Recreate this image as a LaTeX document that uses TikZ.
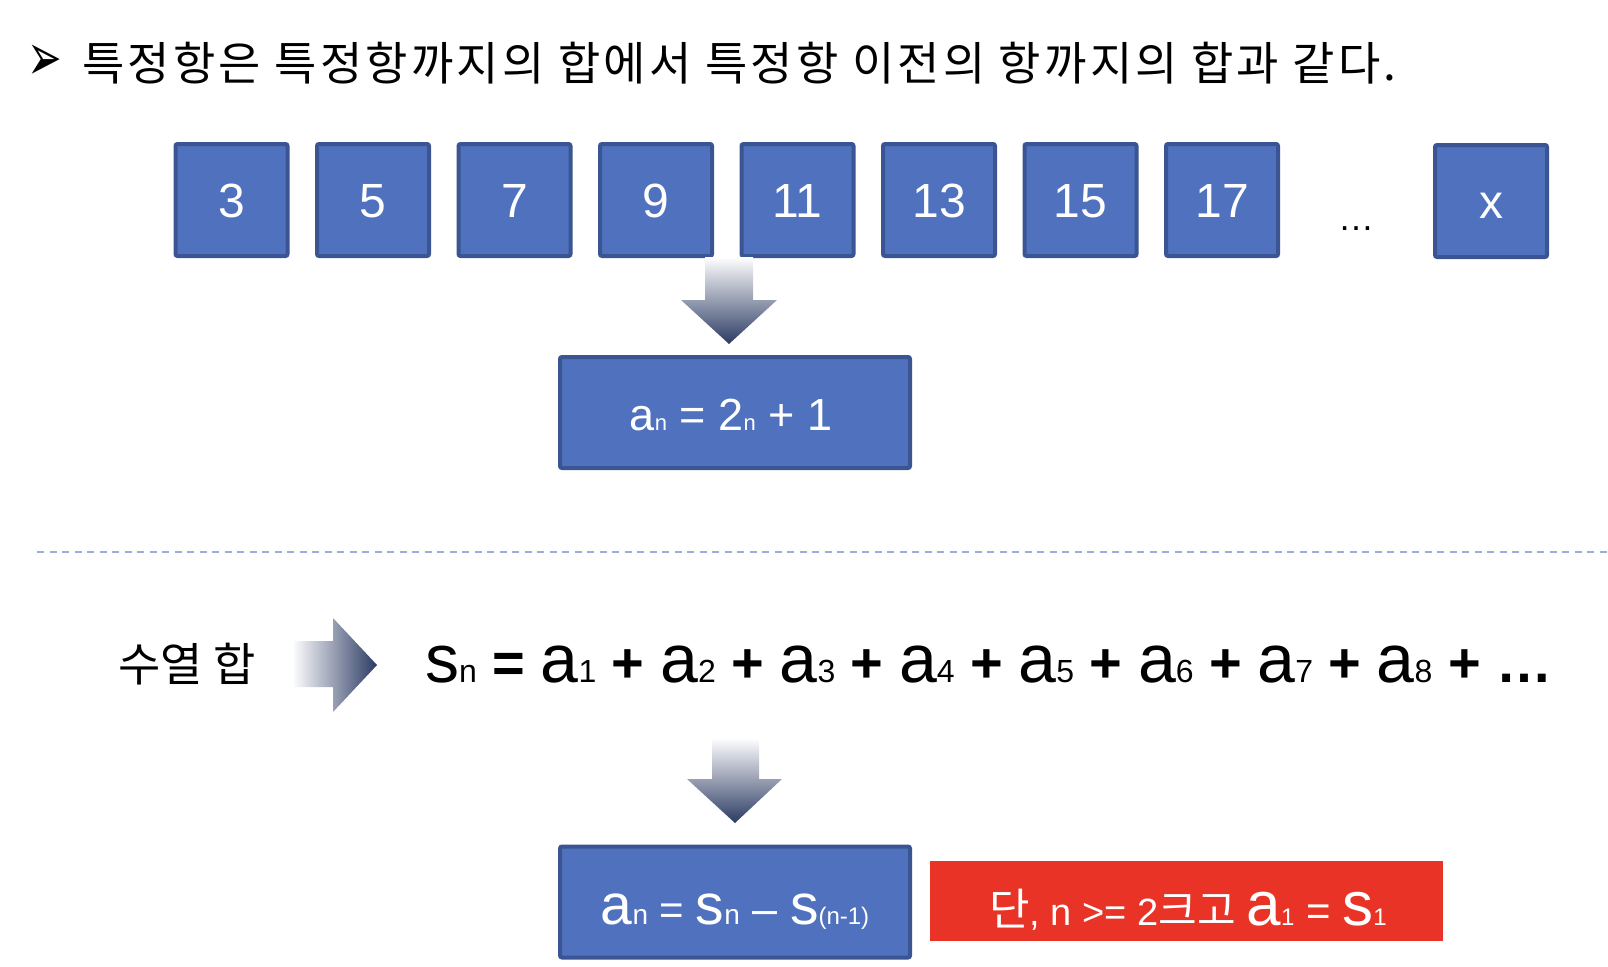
\documentclass[tikz,border=0pt]{standalone}
\usepackage{fontspec}
\setmainfont{Liberation Sans}
\newfontfamily\krfont{Noto Sans CJK KR}
\newfontfamily\krtitle[LetterSpace=7]{Noto Sans CJK KR}
\newfontfamily\symfont{DejaVu Sans}
\usetikzlibrary{positioning}
\definecolor{boxBlue}{HTML}{4F71BE}
\definecolor{boxEdge}{HTML}{3A5591}
\definecolor{noteRed}{HTML}{E83326}
\definecolor{arrowNavy}{HTML}{2C3B63}
\definecolor{dashBlue}{HTML}{9BAEDB}
\newcommand{\fsz}[2]{{\fontsize{#1}{#1}\selectfont #2}}
\newcommand{\sumop}[1]{\fsz{56}{\bfseries\ #1\ }}
\tikzset{
    numbox/.style={draw=boxEdge,fill=boxBlue,line width=4pt,rounded corners=2pt,
        minimum width=112pt,minimum height=112pt,inner sep=0pt,text=white,
        text height=35pt,text depth=0pt,font=\fontsize{48}{48}\selectfont},
    formbox/.style={draw=boxEdge,fill=boxBlue,line width=4pt,rounded corners=2pt,
        minimum width=350pt,minimum height=111pt,inner sep=0pt},
    notebox/.style={fill=noteRed,minimum width=513pt,minimum height=80pt,inner sep=0pt},
    formtext/.style={text=white,inner sep=0pt,anchor=base},
    plaintext/.style={inner sep=0pt,anchor=base west},
    blockarrow/.style={draw=none}
}
\begin{document}
\begin{tikzpicture}[x=1pt,y=-1pt]
    \useasboundingbox (0,0) rectangle (1608,966);
    \node[plaintext] (bullet) at (27,80) {\symfont\fontsize{46}{46}\selectfont
        \scalebox{0.9}[1.45]{➢}};
    \node[plaintext] (title) at (82,80) {\krtitle\fontsize{46}{46}\selectfont
        특정항은 특정항까지의 합에서 특정항 이전의 항까지의 합과 같다.};
    \foreach \v [count=\i] in {3,5,7,9,11,13,15,17}
        \node[numbox] (num\i) at ({231.5+141.5*(\i-1)},200) {\v};
    \node[inner sep=0pt,anchor=base] (dots) at (1356,230) {\fontsize{36}{36}\selectfont …};
    \node[numbox] (numx) at (1491,201) {x};
    \shade[blockarrow,top color=white,bottom color=arrowNavy]
        (705,257) -- (753,257) -- (753,300) -- (777,300) -- (729,344)
        -- (681,300) -- (705,300) -- cycle;
    \node[formbox] (formone) at (735,412.5) {};
    \node[formtext] (formonetxt) at (731,430) {\fontsize{45}{45}\selectfont
        a\fsz{22}{n} = 2\fsz{22}{n} + 1};
    \draw[dashBlue,line width=2.2pt,dash pattern=on 7pt off 5.5pt] (37,552) -- (1608,552);
    \node[plaintext] (sumlabel) at (118,681) {\krfont\fontsize{46}{46}\selectfont 수열 합};
    \shade[blockarrow,left color=white,right color=arrowNavy]
        (292,641) -- (333,641) -- (333,618) -- (377,665) -- (333,712)
        -- (333,687) -- (292,687) -- cycle;
    \node[plaintext] (sumline) at (425,682) {\fontsize{68}{68}\selectfont
        s\fsz{32}{n}\sumop{=}a\fsz{32}{1}\sumop{+}a\fsz{32}{2}\sumop{+}a\fsz{32}{3}%
        \sumop{+}a\fsz{32}{4}\sumop{+}a\fsz{32}{5}\sumop{+}a\fsz{32}{6}%
        \sumop{+}a\fsz{32}{7}\sumop{+}a\fsz{32}{8}\sumop{+}\fsz{56}{\bfseries …}};
    \shade[blockarrow,top color=white,bottom color=arrowNavy]
        (712,738) -- (759,738) -- (759,779) -- (782,779) -- (735,823)
        -- (687,779) -- (712,779) -- cycle;
    \node[formbox] (formtwo) at (735,902) {};
    \node[formtext] (formtwotxt) at (735,924) {\fontsize{57}{57}\selectfont
        a\fsz{28}{n}\fsz{42}{\ =\ }s\fsz{28}{n}\fsz{45}{\ –\ }s\fsz{24}{(n-1)}};
    \node[notebox] (note) at (1186.5,901) {};
    \node[formtext] (notetxt) at (1188,925) {\fsz{44}{\krfont 단}\fsz{38}{, n >= 2{\krfont\fontsize{42}{42}\selectfont 크고} }%
        \fsz{62}{a}\fsz{24}{1}\fsz{42}{\ =\ }\fsz{62}{s}\fsz{24}{1}};
\end{tikzpicture}
\end{document}
